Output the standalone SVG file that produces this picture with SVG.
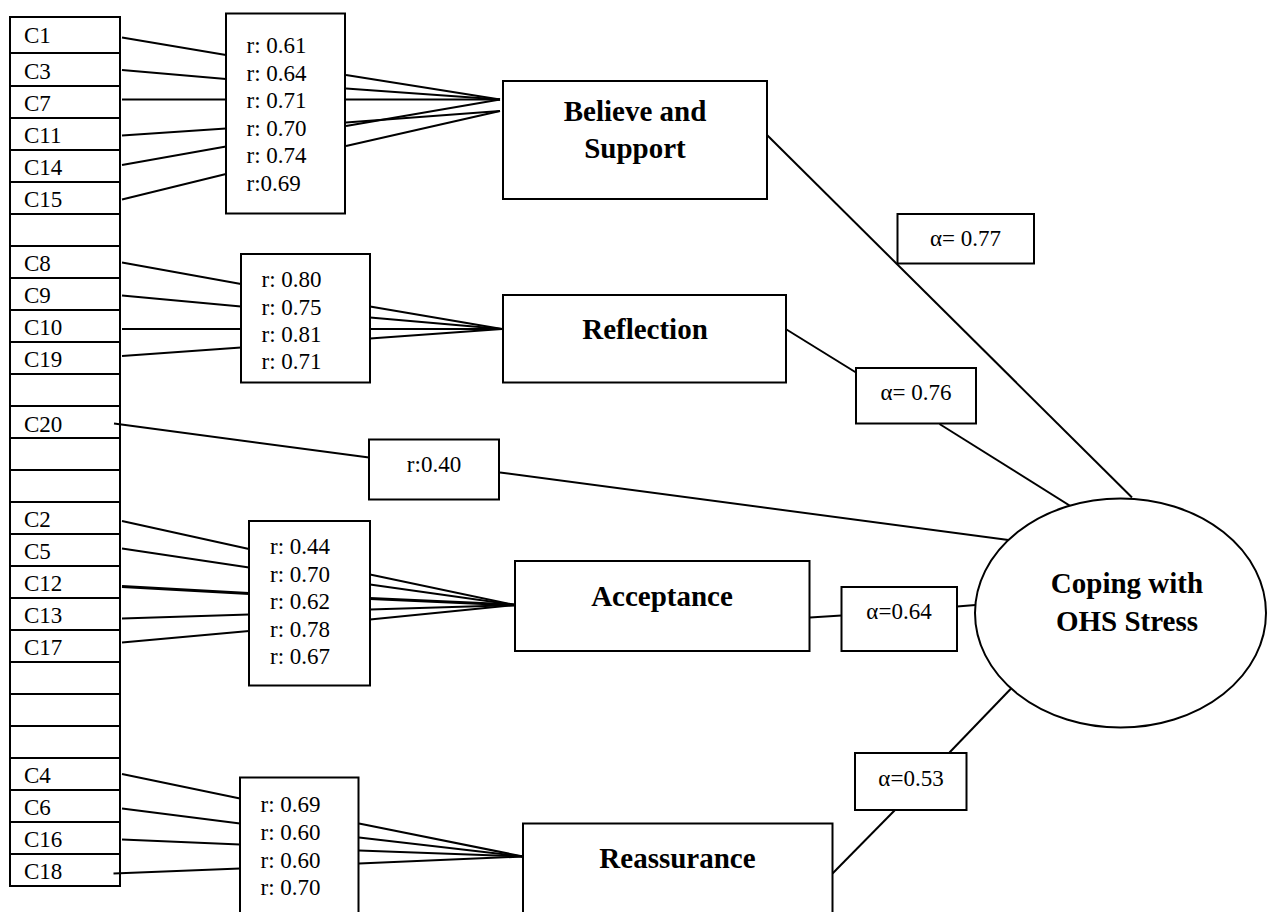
<svg xmlns="http://www.w3.org/2000/svg" width="1268" height="912" viewBox="0 0 1268 912">
  <style>
    .box { fill: #fff; stroke: #000; stroke-width: 2; }
    .cell { fill: #fff; stroke: #000; stroke-width: 2; }
    .ln { stroke: #000; stroke-width: 2; fill: none; }
    .thick { stroke-width: 3; }
    .t { font-family: "Liberation Serif", "Times New Roman", serif; font-size: 23px; fill: #000; }
    .tc { text-anchor: middle; }
    .b { font-family: "Liberation Serif", "Times New Roman", serif; font-size: 29px; font-weight: bold; fill: #000; text-anchor: middle; }
  </style>
  <rect width="1268" height="912" fill="#fff"/>

  <!-- item column -->
  <g id="items">
    <g id="item-c1"><rect class="cell" x="10" y="17" width="110" height="36"/><text class="t" x="24" y="42.5">C1</text></g>
    <g id="item-c3"><rect class="cell" x="10" y="53" width="110" height="33"/><text class="t" x="24" y="79">C3</text></g>
    <g id="item-c7"><rect class="cell" x="10" y="86" width="110" height="32"/><text class="t" x="24" y="111">C7</text></g>
    <g id="item-c11"><rect class="cell" x="10" y="118" width="110" height="32"/><text class="t" x="24" y="143">C11</text></g>
    <g id="item-c14"><rect class="cell" x="10" y="150" width="110" height="32"/><text class="t" x="24" y="175">C14</text></g>
    <g id="item-c15"><rect class="cell" x="10" y="182" width="110" height="32"/><text class="t" x="24" y="207">C15</text></g>
    <g id="item-blank1"><rect class="cell" x="10" y="214" width="110" height="32"/></g>
    <g id="item-c8"><rect class="cell" x="10" y="246" width="110" height="32"/><text class="t" x="24" y="270.5">C8</text></g>
    <g id="item-c9"><rect class="cell" x="10" y="278" width="110" height="32"/><text class="t" x="24" y="302.5">C9</text></g>
    <g id="item-c10"><rect class="cell" x="10" y="310" width="110" height="32"/><text class="t" x="24" y="334.5">C10</text></g>
    <g id="item-c19"><rect class="cell" x="10" y="342" width="110" height="32"/><text class="t" x="24" y="366.5">C19</text></g>
    <g id="item-blank2"><rect class="cell" x="10" y="374" width="110" height="32"/></g>
    <g id="item-c20"><rect class="cell" x="10" y="406" width="110" height="32"/><text class="t" x="24" y="431.5">C20</text></g>
    <g id="item-blank3"><rect class="cell" x="10" y="438" width="110" height="32"/></g>
    <g id="item-blank4"><rect class="cell" x="10" y="470" width="110" height="32"/></g>
    <g id="item-c2"><rect class="cell" x="10" y="502" width="110" height="32"/><text class="t" x="24" y="526.5">C2</text></g>
    <g id="item-c5"><rect class="cell" x="10" y="534" width="110" height="32"/><text class="t" x="24" y="558.5">C5</text></g>
    <g id="item-c12"><rect class="cell" x="10" y="566" width="110" height="32"/><text class="t" x="24" y="590.5">C12</text></g>
    <g id="item-c13"><rect class="cell" x="10" y="598" width="110" height="32"/><text class="t" x="24" y="622.5">C13</text></g>
    <g id="item-c17"><rect class="cell" x="10" y="630" width="110" height="32"/><text class="t" x="24" y="654.5">C17</text></g>
    <g id="item-blank5"><rect class="cell" x="10" y="662" width="110" height="32"/></g>
    <g id="item-blank6"><rect class="cell" x="10" y="694" width="110" height="32"/></g>
    <g id="item-blank7"><rect class="cell" x="10" y="726" width="110" height="32"/></g>
    <g id="item-c4"><rect class="cell" x="10" y="758" width="110" height="32"/><text class="t" x="24" y="782.5">C4</text></g>
    <g id="item-c6"><rect class="cell" x="10" y="790" width="110" height="32"/><text class="t" x="24" y="814.5">C6</text></g>
    <g id="item-c16"><rect class="cell" x="10" y="822" width="110" height="32"/><text class="t" x="24" y="846.5">C16</text></g>
    <g id="item-c18"><rect class="cell" x="10" y="854" width="110" height="32"/><text class="t" x="24" y="878.5">C18</text></g>
  </g>

  <!-- connectors -->
  <g id="connectors">
    <!-- items to Believe and Support loadings -->
    <line class="ln" x1="122" y1="37.5" x2="226" y2="55"/>
    <line class="ln" x1="122" y1="70" x2="226" y2="79"/>
    <line class="ln" x1="122" y1="99.5" x2="226" y2="99.5"/>
    <line class="ln" x1="122" y1="135.5" x2="226" y2="128.5"/>
    <line class="ln" x1="122" y1="165" x2="226" y2="146.5"/>
    <line class="ln" x1="122" y1="199.5" x2="226" y2="174"/>
    <line class="ln" x1="346" y1="75" x2="500" y2="99.5"/>
    <line class="ln" x1="346" y1="88.5" x2="500" y2="99.5"/>
    <line class="ln" x1="346" y1="99.5" x2="500" y2="99.5"/>
    <line class="ln" x1="346" y1="126" x2="500" y2="99.5"/>
    <line class="ln" x1="346" y1="122.5" x2="500" y2="111"/>
    <line class="ln" x1="346" y1="146" x2="500" y2="111"/>

    <!-- items to Reflection loadings -->
    <line class="ln" x1="122" y1="262.5" x2="241" y2="284"/>
    <line class="ln" x1="122" y1="295.5" x2="241" y2="306.5"/>
    <line class="ln" x1="122" y1="329" x2="241" y2="329"/>
    <line class="ln" x1="122" y1="356" x2="241" y2="347.5"/>
    <line class="ln" x1="370" y1="306.5" x2="502" y2="329"/>
    <line class="ln" x1="370" y1="317.5" x2="502" y2="329"/>
    <line class="ln" x1="370" y1="329" x2="502" y2="329"/>
    <line class="ln" x1="370" y1="338.5" x2="502" y2="329"/>

    <!-- C20 direct path -->
    <line class="ln" x1="114" y1="423.5" x2="369" y2="457.5"/>
    <line class="ln" x1="500" y1="472.5" x2="1016" y2="541"/>

    <!-- items to Acceptance loadings -->
    <line class="ln" x1="122" y1="521" x2="249" y2="549"/>
    <line class="ln" x1="122" y1="548.5" x2="249" y2="567.5"/>
    <line class="ln thick" x1="122" y1="586.5" x2="249" y2="593.5"/>
    <line class="ln" x1="122" y1="618.5" x2="249" y2="614.5"/>
    <line class="ln" x1="122" y1="642.5" x2="249" y2="631"/>
    <line class="ln" x1="370" y1="574.5" x2="515" y2="605"/>
    <line class="ln" x1="370" y1="584.5" x2="515" y2="605"/>
    <line class="ln thick" x1="370" y1="598.5" x2="515" y2="605"/>
    <line class="ln" x1="370" y1="609.5" x2="515" y2="605"/>
    <line class="ln" x1="370" y1="619.5" x2="515" y2="605"/>

    <!-- items to Reassurance loadings -->
    <line class="ln" x1="122" y1="774" x2="240" y2="798.5"/>
    <line class="ln" x1="122" y1="808.5" x2="240" y2="823.5"/>
    <line class="ln" x1="122" y1="839.5" x2="240" y2="844.5"/>
    <line class="ln" x1="113.5" y1="873.5" x2="240" y2="868.5"/>
    <line class="ln" x1="359" y1="823.5" x2="523" y2="856.5"/>
    <line class="ln" x1="359" y1="837.5" x2="523" y2="856.5"/>
    <line class="ln" x1="359" y1="850.5" x2="523" y2="856.5"/>
    <line class="ln" x1="359" y1="863.5" x2="523" y2="856.5"/>

    <!-- factors to Coping with OHS Stress -->
    <line class="ln" x1="767" y1="135" x2="1132" y2="497.5"/>
    <line class="ln" x1="786.5" y1="329.5" x2="856" y2="372.5"/>
    <line class="ln" x1="939.5" y1="424" x2="1076" y2="509.5"/>
    <line class="ln" x1="810" y1="617.5" x2="841.5" y2="615.5"/>
    <line class="ln" x1="957" y1="606.5" x2="975.5" y2="605"/>
    <line class="ln" x1="832.5" y1="873.5" x2="895" y2="810"/>
    <line class="ln" x1="949.5" y1="752.5" x2="1013.5" y2="686"/>
  </g>

  <!-- item loadings -->
  <g id="loadings-believe">
    <rect class="box" x="226" y="13.5" width="119" height="200"/>
    <text class="t" x="246.5" y="53.3">r: 0.61</text>
    <text class="t" x="246.5" y="81">r: 0.64</text>
    <text class="t" x="246.5" y="108.3">r: 0.71</text>
    <text class="t" x="246.5" y="135.7">r: 0.70</text>
    <text class="t" x="246.5" y="163.3">r: 0.74</text>
    <text class="t" x="246.5" y="190.7">r:0.69</text>
  </g>
  <g id="loadings-reflection">
    <rect class="box" x="241" y="254" width="129" height="128.5"/>
    <text class="t" x="261.5" y="287.3">r: 0.80</text>
    <text class="t" x="261.5" y="315">r: 0.75</text>
    <text class="t" x="261.5" y="341.7">r: 0.81</text>
    <text class="t" x="261.5" y="369.3">r: 0.71</text>
  </g>
  <g id="loading-c20">
    <rect class="box" x="369" y="439.5" width="130" height="60"/>
    <text class="t tc" x="434" y="472.3">r:0.40</text>
  </g>
  <g id="loadings-acceptance">
    <rect class="box" x="249" y="521" width="121" height="164.5"/>
    <text class="t" x="270" y="554">r: 0.44</text>
    <text class="t" x="270" y="581.7">r: 0.70</text>
    <text class="t" x="270" y="609">r: 0.62</text>
    <text class="t" x="270" y="636.7">r: 0.78</text>
    <text class="t" x="270" y="664">r: 0.67</text>
  </g>
  <g id="loadings-reassurance">
    <rect class="box" x="240" y="777.5" width="118.5" height="150"/>
    <text class="t" x="260.5" y="812.3">r: 0.69</text>
    <text class="t" x="260.5" y="840">r: 0.60</text>
    <text class="t" x="260.5" y="867.7">r: 0.60</text>
    <text class="t" x="260.5" y="895">r: 0.70</text>
  </g>

  <!-- factors -->
  <g id="factor-believe">
    <rect class="box" x="503" y="81" width="264" height="118"/>
    <text class="b" x="635" y="121">Believe and</text>
    <text class="b" x="635" y="158">Support</text>
  </g>
  <g id="factor-reflection">
    <rect class="box" x="503" y="295" width="283" height="87.5"/>
    <text class="b" x="645" y="338.5">Reflection</text>
  </g>
  <g id="factor-acceptance">
    <rect class="box" x="515" y="561" width="294.5" height="90"/>
    <text class="b" x="662" y="605.7">Acceptance</text>
  </g>
  <g id="factor-reassurance">
    <rect class="box" x="523" y="823.5" width="309.5" height="110"/>
    <text class="b" x="677.5" y="868">Reassurance</text>
  </g>

  <!-- reliability labels -->
  <g id="alpha-believe">
    <rect class="box" x="897.5" y="214" width="136.5" height="49.5"/>
    <text class="t tc" x="965.5" y="245.7">α= 0.77</text>
  </g>
  <g id="alpha-reflection">
    <rect class="box" x="856" y="368" width="120" height="55.5"/>
    <text class="t tc" x="916" y="400">α= 0.76</text>
  </g>
  <g id="alpha-acceptance">
    <rect class="box" x="841.5" y="587" width="115.5" height="64"/>
    <text class="t tc" x="899" y="619.3">α=0.64</text>
  </g>
  <g id="alpha-reassurance">
    <rect class="box" x="855" y="753" width="111.5" height="57"/>
    <text class="t tc" x="911" y="785.7">α=0.53</text>
  </g>

  <!-- outcome -->
  <g id="coping">
    <ellipse class="box" cx="1120.5" cy="613" rx="145.5" ry="114.5"/>
    <text class="b" x="1127" y="593.3">Coping with</text>
    <text class="b" x="1127" y="631">OHS Stress</text>
  </g>
</svg>
